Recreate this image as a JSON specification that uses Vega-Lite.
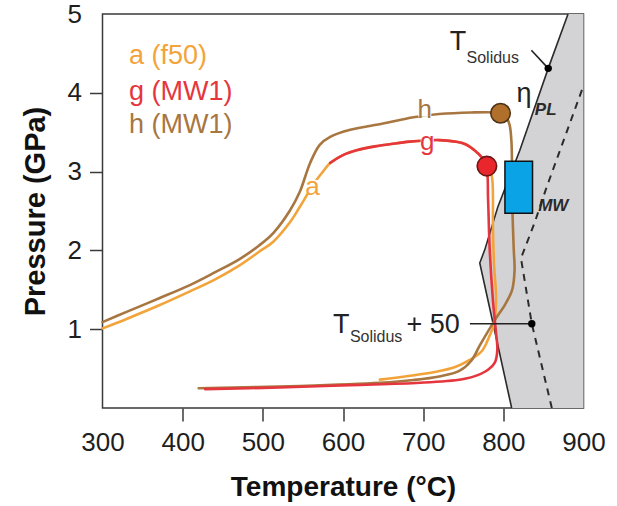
{
  "$schema": "https://vega.github.io/schema/vega-lite/v6.json",
  "width": 481,
  "height": 394,
  "autosize": "none",
  "padding": {"left": 102.5, "top": 14, "right": 33.5, "bottom": 98},
  "background": "white",
  "config": {
    "view": {"stroke": "#3a3a3a", "strokeWidth": 1.5},
    "font": "Liberation Sans",
    "text": {"font": "Liberation Sans"}
  },
  "datasets": {
    "curves": [
      {"curve": "a", "seq": 1, "T": 300, "P": 1.01},
      {"curve": "a", "seq": 2, "T": 330, "P": 1.13},
      {"curve": "a", "seq": 3, "T": 370, "P": 1.3},
      {"curve": "a", "seq": 4, "T": 409, "P": 1.48},
      {"curve": "a", "seq": 5, "T": 440, "P": 1.63},
      {"curve": "a", "seq": 6, "T": 471, "P": 1.81},
      {"curve": "a", "seq": 7, "T": 495, "P": 1.98},
      {"curve": "a", "seq": 8, "T": 513, "P": 2.11},
      {"curve": "a", "seq": 9, "T": 534, "P": 2.36},
      {"curve": "a", "seq": 10, "T": 546, "P": 2.55},
      {"curve": "a", "seq": 11, "T": 556, "P": 2.72},
      {"curve": "a", "seq": 12, "T": 566, "P": 2.88},
      {"curve": "a", "seq": 13, "T": 575, "P": 3.0},
      {"curve": "a", "seq": 14, "T": 584, "P": 3.11},
      {"curve": "a", "seq": 15, "T": 600, "P": 3.21},
      {"curve": "a", "seq": 16, "T": 617, "P": 3.27},
      {"curve": "a", "seq": 17, "T": 640, "P": 3.32},
      {"curve": "a", "seq": 18, "T": 660, "P": 3.35},
      {"curve": "a", "seq": 19, "T": 683, "P": 3.38},
      {"curve": "a", "seq": 20, "T": 720, "P": 3.4},
      {"curve": "a", "seq": 21, "T": 740, "P": 3.38},
      {"curve": "a", "seq": 22, "T": 752, "P": 3.35},
      {"curve": "a", "seq": 23, "T": 764, "P": 3.27},
      {"curve": "a", "seq": 24, "T": 774, "P": 3.17},
      {"curve": "a", "seq": 25, "T": 782, "P": 3.07},
      {"curve": "a", "seq": 26, "T": 786, "P": 2.92},
      {"curve": "a", "seq": 27, "T": 787, "P": 2.7},
      {"curve": "a", "seq": 28, "T": 787, "P": 2.3},
      {"curve": "a", "seq": 29, "T": 788.5, "P": 1.8},
      {"curve": "a", "seq": 30, "T": 791, "P": 1.37},
      {"curve": "a", "seq": 31, "T": 788, "P": 1.05},
      {"curve": "a", "seq": 32, "T": 783, "P": 0.92},
      {"curve": "a", "seq": 33, "T": 773, "P": 0.72},
      {"curve": "a", "seq": 34, "T": 758, "P": 0.61},
      {"curve": "a", "seq": 35, "T": 740, "P": 0.52},
      {"curve": "a", "seq": 36, "T": 716, "P": 0.46},
      {"curve": "a", "seq": 37, "T": 684, "P": 0.41},
      {"curve": "a", "seq": 38, "T": 646, "P": 0.36},
      {"curve": "h", "seq": 1, "T": 300, "P": 1.09},
      {"curve": "h", "seq": 2, "T": 330, "P": 1.22},
      {"curve": "h", "seq": 3, "T": 370, "P": 1.39},
      {"curve": "h", "seq": 4, "T": 409, "P": 1.56},
      {"curve": "h", "seq": 5, "T": 440, "P": 1.72},
      {"curve": "h", "seq": 6, "T": 471, "P": 1.89},
      {"curve": "h", "seq": 7, "T": 495, "P": 2.06},
      {"curve": "h", "seq": 8, "T": 513, "P": 2.22},
      {"curve": "h", "seq": 9, "T": 534, "P": 2.51},
      {"curve": "h", "seq": 10, "T": 546, "P": 2.74},
      {"curve": "h", "seq": 11, "T": 559, "P": 3.11},
      {"curve": "h", "seq": 12, "T": 571, "P": 3.34},
      {"curve": "h", "seq": 13, "T": 584, "P": 3.44},
      {"curve": "h", "seq": 14, "T": 609, "P": 3.53},
      {"curve": "h", "seq": 15, "T": 650, "P": 3.61},
      {"curve": "h", "seq": 16, "T": 688, "P": 3.69},
      {"curve": "h", "seq": 17, "T": 720, "P": 3.73},
      {"curve": "h", "seq": 18, "T": 760, "P": 3.75},
      {"curve": "h", "seq": 19, "T": 790, "P": 3.75},
      {"curve": "h", "seq": 20, "T": 800, "P": 3.73},
      {"curve": "h", "seq": 21, "T": 807, "P": 3.62},
      {"curve": "h", "seq": 22, "T": 810, "P": 3.4},
      {"curve": "h", "seq": 23, "T": 811, "P": 2.64},
      {"curve": "h", "seq": 24, "T": 813, "P": 2.01},
      {"curve": "h", "seq": 25, "T": 814, "P": 1.75},
      {"curve": "h", "seq": 26, "T": 811, "P": 1.5},
      {"curve": "h", "seq": 27, "T": 802, "P": 1.31},
      {"curve": "h", "seq": 28, "T": 791, "P": 1.14},
      {"curve": "h", "seq": 29, "T": 771, "P": 0.8},
      {"curve": "h", "seq": 30, "T": 760, "P": 0.6},
      {"curve": "h", "seq": 31, "T": 745, "P": 0.47},
      {"curve": "h", "seq": 32, "T": 720, "P": 0.4},
      {"curve": "h", "seq": 33, "T": 688, "P": 0.355},
      {"curve": "h", "seq": 34, "T": 646, "P": 0.32},
      {"curve": "h", "seq": 35, "T": 546, "P": 0.28},
      {"curve": "h", "seq": 36, "T": 420, "P": 0.25},
      {"curve": "g", "seq": 1, "T": 584, "P": 3.11},
      {"curve": "g", "seq": 2, "T": 600, "P": 3.21},
      {"curve": "g", "seq": 3, "T": 617, "P": 3.27},
      {"curve": "g", "seq": 4, "T": 640, "P": 3.32},
      {"curve": "g", "seq": 5, "T": 660, "P": 3.35},
      {"curve": "g", "seq": 6, "T": 683, "P": 3.38},
      {"curve": "g", "seq": 7, "T": 720, "P": 3.4},
      {"curve": "g", "seq": 8, "T": 740, "P": 3.38},
      {"curve": "g", "seq": 9, "T": 752, "P": 3.35},
      {"curve": "g", "seq": 10, "T": 764, "P": 3.27},
      {"curve": "g", "seq": 11, "T": 774, "P": 3.17},
      {"curve": "g", "seq": 12, "T": 779, "P": 3.07},
      {"curve": "g", "seq": 13, "T": 781, "P": 2.64},
      {"curve": "g", "seq": 14, "T": 783, "P": 2.01},
      {"curve": "g", "seq": 15, "T": 787, "P": 1.37},
      {"curve": "g", "seq": 16, "T": 790.5, "P": 0.99},
      {"curve": "g", "seq": 17, "T": 792.5, "P": 0.74},
      {"curve": "g", "seq": 18, "T": 789.5, "P": 0.58},
      {"curve": "g", "seq": 19, "T": 777, "P": 0.46},
      {"curve": "g", "seq": 20, "T": 752, "P": 0.37},
      {"curve": "g", "seq": 21, "T": 696, "P": 0.32},
      {"curve": "g", "seq": 22, "T": 609, "P": 0.29},
      {"curve": "g", "seq": 23, "T": 521, "P": 0.26},
      {"curve": "g", "seq": 24, "T": 428, "P": 0.24}
    ],
    "solidus": [
      {"seq": 1, "T": 810.4, "P": 0, "Tedge": 900},
      {"seq": 2, "T": 770.6, "P": 1.84, "Tedge": 900},
      {"seq": 3, "T": 776.9, "P": 2.01, "Tedge": 900},
      {"seq": 4, "T": 793.1, "P": 2.55, "Tedge": 900},
      {"seq": 5, "T": 820.6, "P": 3.27, "Tedge": 900},
      {"seq": 6, "T": 856, "P": 4.31, "Tedge": 900},
      {"seq": 7, "T": 880.7, "P": 5, "Tedge": 900}
    ],
    "dashed": [
      {"seq": 1, "T": 860.5, "P": 0},
      {"seq": 2, "T": 835.5, "P": 1.07},
      {"seq": 3, "T": 822, "P": 1.9},
      {"seq": 4, "T": 839.3, "P": 2.36},
      {"seq": 5, "T": 853.9, "P": 2.8},
      {"seq": 6, "T": 900, "P": 4.09}
    ],
    "pointers": [
      {"id": "top", "seq": 1, "T": 835, "P": 4.54},
      {"id": "top", "seq": 2, "T": 856, "P": 4.31},
      {"id": "p50", "seq": 1, "T": 758.3, "P": 1.07},
      {"id": "p50", "seq": 2, "T": 835.5, "P": 1.07}
    ],
    "dots": [
      {"T": 856, "P": 4.31},
      {"T": 835.5, "P": 1.07}
    ],
    "circles": [
      {"curve": "h", "T": 796.5, "P": 3.74},
      {"curve": "g", "T": 779.5, "P": 3.07}
    ],
    "box": [
      {"T1": 802, "T2": 836.4, "P1": 2.47, "P2": 3.13}
    ],
    "bigtext": [
      {"text": "T", "T": 733.3, "P": 4.54},
      {"text": "T", "T": 587.4, "P": 0.95},
      {"text": "+ 50", "T": 679.3, "P": 0.95},
      {"text": "η", "T": 816.5, "P": 3.88}
    ],
    "subtext": [
      {"text": "Solidus", "T": 754.1, "P": 4.38},
      {"text": "Solidus", "T": 608.6, "P": 0.84}
    ],
    "italictext": [
      {"text": "PL", "T": 839.3, "P": 3.72},
      {"text": "MW", "T": 843.4, "P": 2.5}
    ],
    "legend": [
      {"curve": "a", "text": "a (f50)", "T": 333, "P": 4.36},
      {"curve": "g", "text": "g (MW1)", "T": 333, "P": 3.91},
      {"curve": "h", "text": "h (MW1)", "T": 333, "P": 3.49}
    ],
    "curvelabels": [
      {"curve": "h", "text": "h", "T": 702, "P": 3.78},
      {"curve": "g", "text": "g", "T": 705, "P": 3.37},
      {"curve": "a", "text": "a", "T": 562, "P": 2.81}
    ]
  },
  "layer": [
    {
      "data": {"name": "solidus"},
      "mark": {"type": "area", "orient": "horizontal", "color": "#d3d3d5", "opacity": 1},
      "encoding": {
        "y": {"field": "P", "type": "quantitative", "scale": {"domain": [0, 5], "nice": false, "zero": false},
          "axis": {
            "values": [1, 2, 3, 4, 5],
            "format": "d",
            "domain": false,
            "grid": false,
            "labelFontSize": 26,
            "labelColor": "#1e1e1e",
            "labelFont": "Liberation Sans",
            "labelPadding": 8,
            "labelFlush": false,
            "labelOverlap": false,
            "tickSize": 13,
            "tickWidth": 1.5,
            "tickColor": "#3a3a3a",
            "tickOpacity": {"condition": {"test": "datum.value == 5", "value": 0}, "value": 1},
            "title": "Pressure (GPa)",
            "titleFont": "Liberation Sans",
            "titleFontSize": 29,
            "titleFontWeight": "bold",
            "titleColor": "#111111",
            "titlePadding": 17
          }
        },
        "x": {"field": "T", "type": "quantitative", "scale": {"domain": [300, 900], "nice": false, "zero": false},
          "axis": {
            "values": [300, 400, 500, 600, 700, 800, 900],
            "domain": false,
            "grid": false,
            "labelFontSize": 26,
            "labelColor": "#1e1e1e",
            "labelFont": "Liberation Sans",
            "labelPadding": 8,
            "labelFlush": false,
            "labelOverlap": false,
            "tickSize": 13,
            "tickWidth": 1.5,
            "tickColor": "#3a3a3a",
            "tickOpacity": {"condition": {"test": "datum.value == 300 || datum.value == 900", "value": 0}, "value": 1},
            "title": "Temperature (°C)",
            "titleFont": "Liberation Sans",
            "titleFontSize": 28,
            "titleFontWeight": "bold",
            "titleColor": "#111111",
            "titlePadding": 18
          }
        },
        "x2": {"field": "Tedge"}
      }
    },
    {
      "data": {"name": "solidus"},
      "mark": {"type": "line", "color": "#2b2b2b", "strokeWidth": 1.6},
      "encoding": {
        "x": {"field": "T", "type": "quantitative"},
        "y": {"field": "P", "type": "quantitative"},
        "order": {"field": "seq", "type": "quantitative"}
      }
    },
    {
      "data": {"name": "dashed"},
      "mark": {"type": "line", "color": "#2b2b2b", "strokeWidth": 2, "strokeDash": [7, 6], "clip": true},
      "encoding": {
        "x": {"field": "T", "type": "quantitative"},
        "y": {"field": "P", "type": "quantitative"},
        "order": {"field": "seq", "type": "quantitative"}
      }
    },
    {
      "data": {"name": "curves"},
      "transform": [{"filter": "datum.curve == 'a'"}],
      "mark": {"type": "line", "strokeWidth": 2.6, "interpolate": "catmull-rom", "strokeJoin": "round", "strokeCap": "round"},
      "encoding": {
        "x": {"field": "T", "type": "quantitative"},
        "y": {"field": "P", "type": "quantitative"},
        "color": {"field": "curve", "type": "nominal", "scale": {"domain": ["a", "g", "h"], "range": ["#F2A43A", "#E5363E", "#A87640"]}, "legend": null},
        "order": {"field": "seq", "type": "quantitative"}
      }
    },
    {
      "data": {"name": "curves"},
      "transform": [{"filter": "datum.curve == 'h'"}],
      "mark": {"type": "line", "strokeWidth": 2.6, "interpolate": "catmull-rom", "strokeJoin": "round", "strokeCap": "round"},
      "encoding": {
        "x": {"field": "T", "type": "quantitative"},
        "y": {"field": "P", "type": "quantitative"},
        "color": {"field": "curve", "type": "nominal", "legend": null},
        "order": {"field": "seq", "type": "quantitative"}
      }
    },
    {
      "data": {"name": "curves"},
      "transform": [{"filter": "datum.curve == 'g'"}],
      "mark": {"type": "line", "strokeWidth": 2.6, "interpolate": "catmull-rom", "strokeJoin": "round", "strokeCap": "round"},
      "encoding": {
        "x": {"field": "T", "type": "quantitative"},
        "y": {"field": "P", "type": "quantitative"},
        "color": {"field": "curve", "type": "nominal", "legend": null},
        "order": {"field": "seq", "type": "quantitative"}
      }
    },
    {
      "data": {"name": "curvelabels"},
      "mark": {"type": "point", "shape": "square", "filled": true, "color": "white", "opacity": 1, "size": 170},
      "encoding": {
        "x": {"field": "T", "type": "quantitative"},
        "y": {"field": "P", "type": "quantitative"}
      }
    },
    {
      "data": {"name": "curvelabels"},
      "mark": {"type": "text", "fontSize": 26, "align": "center", "baseline": "middle"},
      "encoding": {
        "x": {"field": "T", "type": "quantitative"},
        "y": {"field": "P", "type": "quantitative"},
        "text": {"field": "text"},
        "color": {"field": "curve", "type": "nominal", "legend": null}
      }
    },
    {
      "data": {"name": "circles"},
      "mark": {"type": "point", "shape": "circle", "filled": true, "size": 380, "strokeWidth": 1.6, "opacity": 1},
      "encoding": {
        "x": {"field": "T", "type": "quantitative"},
        "y": {"field": "P", "type": "quantitative"},
        "fill": {"field": "curve", "type": "nominal", "scale": {"domain": ["g", "h"], "range": ["#E8262B", "#B06F2B"]}, "legend": null},
        "stroke": {"field": "curve", "type": "nominal", "scale": {"domain": ["g", "h"], "range": ["#6e1616", "#4d3218"]}, "legend": null}
      }
    },
    {
      "data": {"name": "box"},
      "mark": {"type": "rect", "color": "#0AA3E6", "stroke": "#111111", "strokeWidth": 1.5},
      "encoding": {
        "x": {"field": "T1", "type": "quantitative"},
        "x2": {"field": "T2"},
        "y": {"field": "P1", "type": "quantitative"},
        "y2": {"field": "P2"}
      }
    },
    {
      "data": {"name": "pointers"},
      "mark": {"type": "line", "color": "#222222", "strokeWidth": 1.6},
      "encoding": {
        "x": {"field": "T", "type": "quantitative"},
        "y": {"field": "P", "type": "quantitative"},
        "detail": {"field": "id"},
        "order": {"field": "seq", "type": "quantitative"}
      }
    },
    {
      "data": {"name": "dots"},
      "mark": {"type": "point", "shape": "circle", "filled": true, "color": "#000000", "size": 55, "opacity": 1},
      "encoding": {
        "x": {"field": "T", "type": "quantitative"},
        "y": {"field": "P", "type": "quantitative"}
      }
    },
    {
      "data": {"name": "bigtext"},
      "mark": {"type": "text", "fontSize": 27, "align": "left", "baseline": "alphabetic", "color": "#222222"},
      "encoding": {
        "x": {"field": "T", "type": "quantitative"},
        "y": {"field": "P", "type": "quantitative"},
        "text": {"field": "text"}
      }
    },
    {
      "data": {"name": "subtext"},
      "mark": {"type": "text", "fontSize": 16, "align": "left", "baseline": "alphabetic", "color": "#333333"},
      "encoding": {
        "x": {"field": "T", "type": "quantitative"},
        "y": {"field": "P", "type": "quantitative"},
        "text": {"field": "text"}
      }
    },
    {
      "data": {"name": "italictext"},
      "mark": {"type": "text", "fontSize": 17, "fontStyle": "italic", "fontWeight": "bold", "align": "left", "baseline": "alphabetic", "color": "#2a2a2a"},
      "encoding": {
        "x": {"field": "T", "type": "quantitative"},
        "y": {"field": "P", "type": "quantitative"},
        "text": {"field": "text"}
      }
    },
    {
      "data": {"name": "legend"},
      "mark": {"type": "text", "fontSize": 27, "align": "left", "baseline": "alphabetic"},
      "encoding": {
        "x": {"field": "T", "type": "quantitative"},
        "y": {"field": "P", "type": "quantitative"},
        "text": {"field": "text"},
        "color": {"field": "curve", "type": "nominal", "legend": null}
      }
    }
  ]
}
